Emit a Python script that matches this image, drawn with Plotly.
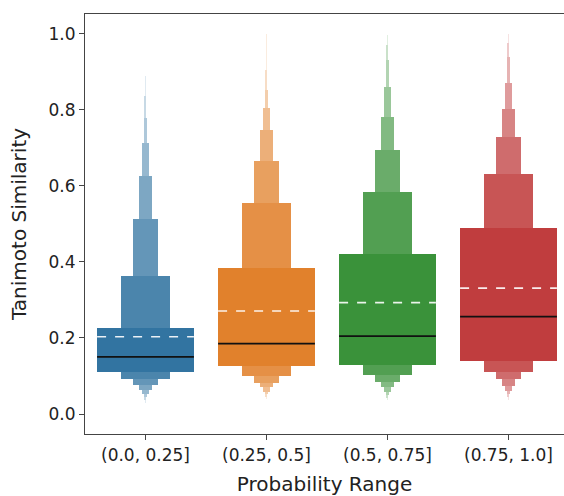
import plotly.graph_objects as go

categories = ["(0.0, 0.25]", "(0.25, 0.5]", "(0.5, 0.75]", "(0.75, 1.0]"]
base_colors = ["#3274a1", "#e1812c", "#3a923a", "#c03d3e"]

# letter-value box bounds, innermost (box) first
upper_bounds = [
    [0.225, 0.362, 0.512, 0.627, 0.714, 0.778, 0.836, 0.889],
    [0.383, 0.555, 0.666, 0.747, 0.804, 0.853, 0.905, 1.000],
    [0.422, 0.583, 0.695, 0.782, 0.861, 0.932, 0.970, 0.997],
    [0.489, 0.631, 0.728, 0.802, 0.870, 0.938, 0.975, 1.000],
]
lower_bounds = [
    [0.111, 0.092, 0.076, 0.063, 0.053, 0.045, 0.037, 0.029],
    [0.127, 0.100, 0.082, 0.070, 0.059, 0.052, 0.046, 0.040],
    [0.130, 0.103, 0.085, 0.070, 0.059, 0.050, 0.043, 0.037],
    [0.139, 0.111, 0.091, 0.074, 0.061, 0.052, 0.044, 0.037],
]
medians = [0.150, 0.185, 0.205, 0.256]
means = [0.203, 0.271, 0.293, 0.331]

BOX_WIDTH = 0.8


def hex_to_rgb(h):
    h = h.lstrip("#")
    return tuple(int(h[i:i + 2], 16) for i in (0, 2, 4))


def lighten(h, f):
    r, g, b = hex_to_rgb(h)
    return "rgb(%d,%d,%d)" % (round(r + (255 - r) * f), round(g + (255 - g) * f), round(b + (255 - b) * f))


fig = go.Figure()
n_levels = len(upper_bounds[0])
for ci, cat in enumerate(categories):
    # draw narrowest (outermost) first so wider levels cover them
    for lvl in reversed(range(n_levels)):
        lo = lower_bounds[ci][lvl]
        hi = upper_bounds[ci][lvl]
        f = 0.85 * lvl / (n_levels - 1)
        fig.add_trace(go.Bar(
            x=[ci], y=[hi - lo], base=[lo],
            width=BOX_WIDTH * 0.5 ** lvl,
            marker=dict(color=lighten(base_colors[ci], f), line=dict(width=0)),
            showlegend=False, hoverinfo="skip",
        ))
    fig.add_trace(go.Scatter(
        x=[ci - BOX_WIDTH / 2, ci + BOX_WIDTH / 2], y=[means[ci]] * 2,
        mode="lines", line=dict(color="rgba(255,255,255,0.9)", width=1.6, dash="dash"),
        showlegend=False, hoverinfo="skip",
    ))
    fig.add_trace(go.Scatter(
        x=[ci - BOX_WIDTH / 2, ci + BOX_WIDTH / 2], y=[medians[ci]] * 2,
        mode="lines", line=dict(color="#111111", width=1.8),
        showlegend=False, hoverinfo="skip",
    ))

font = "DejaVu Sans, sans-serif"
fig.update_layout(
    width=564, height=496,
    margin=dict(l=85, r=0, t=14, b=62),
    barmode="overlay", bargap=0,
    plot_bgcolor="white", paper_bgcolor="white",
    font=dict(family=font, size=17, color="#222222"),
    xaxis=dict(
        range=[-0.5, 3.5 - 5 / 121],
        tickmode="array", tickvals=list(range(len(categories))), ticktext=categories,
        showline=True, linecolor="#444444", linewidth=1.2, mirror=True,
        ticks="outside", ticklen=5, tickcolor="#444444",
        showgrid=False, zeroline=False,
        title=dict(text="Probability Range", standoff=17),
    ),
    yaxis=dict(
        range=[-0.0526, 1.052],
        tickmode="array", tickvals=[0, 0.2, 0.4, 0.6, 0.8, 1.0], tickformat=".1f",
        showline=True, linecolor="#444444", linewidth=1.2, mirror=False,
        ticks="outside", ticklen=5, tickcolor="#444444",
        showgrid=False, zeroline=False,
        title=dict(text="Tanimoto Similarity", standoff=16),
    ),
)

fig.write_html("out.html")
